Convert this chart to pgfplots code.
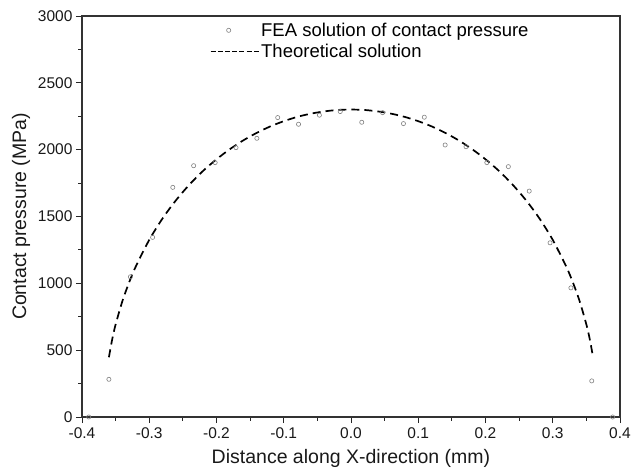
\documentclass[border=0pt]{standalone}
\usepackage{pgfplots}
\pgfplotsset{compat=1.18}
\usepackage{fontspec}
\setmainfont{Liberation Sans}
\pgfplotsset{
  femleg/.style={legend image code/.code={\path (0pt,0pt) (48pt,0pt); \draw[mark repeat=1,##1] plot coordinates {(18pt,0pt)};}},
  theoleg/.style={legend image code/.code={\draw[##1, line width=1pt, dash pattern=on 5pt off 2.2pt] (0pt,0pt) -- (48pt,0pt);}},
}
\begin{document}
\begin{tikzpicture}
\begin{axis}[
  name=ax,
  scale only axis, width=538pt, height=401pt,
  xmin=-0.4, xmax=0.4, ymin=0, ymax=3000,
  xtick={-0.4,-0.3,-0.2,-0.1,0,0.1,0.2,0.3,0.4},
  xticklabels={-0.4,-0.3,-0.2,-0.1,0.0,0.1,0.2,0.3,0.4},
  ytick={0,500,1000,1500,2000,2500,3000},
  minor x tick num=1, minor y tick num=1,
  tick align=outside, xtick pos=bottom, ytick pos=left,
  major tick length=6pt, minor tick length=3.5pt,
  every tick/.style={black!85, line width=0.9pt},
  axis line style={black!80, line width=1.3pt},
  /pgf/number format/assume math mode=true,
  /pgf/number format/1000 sep={},
  tick label style={font=\fontsize{15.5}{18}\selectfont, black!90},
  xticklabel style={yshift=-1pt},
  label style={font=\fontsize{19.5}{22}\selectfont, black!90},
  xlabel={Distance along X-direction (mm)},
  ylabel={Contact pressure (MPa)},
  xlabel style={yshift=-4pt},
  ylabel style={yshift=1pt},
  legend style={at={(axis cs:-0.2097,2965)}, anchor=north west, draw=none, fill=none,
    font=\fontsize{18.5}{21}\selectfont, row sep=2.3pt, inner sep=0pt,
    legend cell align=left},
]
\addplot[only marks, mark=o, mark size=2.1pt, draw=black!50, mark options={line width=0.6pt}, femleg]
coordinates {
(-0.390,0) (-0.360,282) (-0.328,1049) (-0.295,1344) (-0.265,1718)
(-0.234,1880) (-0.202,1903) (-0.171,2015) (-0.140,2085) (-0.109,2240)
(-0.078,2190) (-0.047,2258) (-0.016,2285) (0.016,2205) (0.047,2277)
(0.078,2195) (0.109,2243) (0.140,2035) (0.171,2022) (0.202,1903)
(0.234,1873) (0.265,1690) (0.296,1303) (0.327,966) (0.358,270) (0.389,0)
};
\addlegendentry{FEA solution of contact pressure}
\addplot[black, line width=1.7pt, dash pattern=on 8pt off 5pt, smooth, theoleg]
coordinates {
(-0.36,447) (-0.355,583) (-0.35,692) (-0.34,866) (-0.33,1006) (-0.32,1126)
(-0.30,1325) (-0.28,1487) (-0.26,1623) (-0.24,1740) (-0.22,1841) (-0.20,1928)
(-0.18,2004) (-0.16,2070) (-0.14,2126) (-0.12,2174) (-0.10,2213) (-0.08,2245)
(-0.06,2269) (-0.04,2286) (-0.02,2297) (0,2300)
(0.02,2297) (0.04,2286) (0.06,2269) (0.08,2245) (0.10,2213) (0.12,2174)
(0.14,2126) (0.16,2070) (0.18,2004) (0.20,1928) (0.22,1841) (0.24,1740)
(0.26,1623) (0.28,1487) (0.30,1325) (0.32,1126) (0.33,1006) (0.34,866)
(0.35,692) (0.355,583) (0.36,447)
};
\addlegendentry{Theoretical solution}
\end{axis}
\pgfresetboundingbox
\path (ax.south west) ++(-82pt,-55pt) rectangle ([shift={(12pt,16pt)}]ax.north east);
\end{tikzpicture}
\end{document}
